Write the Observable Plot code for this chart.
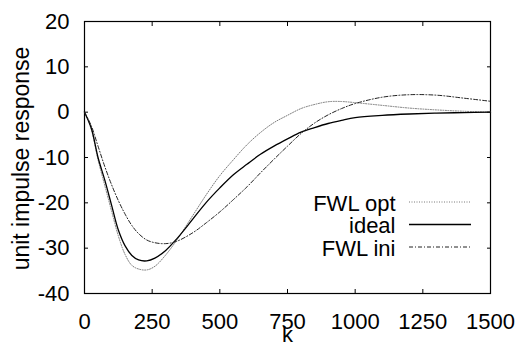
<!DOCTYPE html>
<html><head><meta charset="utf-8">
<script src="https://cdn.jsdelivr.net/npm/d3@7"></script>
<script src="https://cdn.jsdelivr.net/npm/@observablehq/plot@0.6"></script>
<style>body{margin:0;background:#fff} svg{display:block}</style>
</head><body><div id="chart"></div>
<script>
const kValues      = [0, 25, 50, 75, 100, 125, 150, 175, 200, 230, 260, 300, 340, 400, 450, 500, 550, 600, 650, 700, 750, 800, 850, 900, 950, 1000, 1100, 1200, 1300, 1400, 1500];
const idealValues  = [0, -3.5, -10, -15, -20.5, -26, -29.5, -31.6, -32.6, -32.8, -32.2, -30.5, -28, -23.6, -19.9, -16.7, -13.8, -11.5, -9.3, -7.5, -5.9, -4.4, -3.4, -2.5, -1.8, -1.2, -0.7, -0.4, -0.2, -0.1, 0];
const fwlOptValues = [0, -3.8, -10.5, -16.2, -21.8, -27.3, -31.4, -33.8, -34.6, -34.8, -34, -31.5, -28.3, -22.8, -18.2, -14, -10.5, -7.2, -4.5, -2.3, -0.7, 0.8, 1.7, 2.3, 2.35, 2.1, 1.5, 0.9, 0.5, 0.2, 0];
const fwlIniValues = [0, -3, -7.5, -12, -16, -19.5, -22.5, -25, -26.8, -28.2, -28.8, -29, -28.5, -26.6, -24.4, -22, -19.3, -16.5, -13.4, -10.4, -7.5, -4.7, -2.4, -0.6, 0.8, 1.9, 3.3, 3.85, 3.75, 3.1, 2.4];
const seriesNames  = ["FWL opt", "ideal", "FWL ini"];
const xTicks = [0, 250, 500, 750, 1000, 1250, 1500];
const yTicks = [-40, -30, -20, -10, 0, 10, 20];
const xLabel = "k";
const yLabel = "unit impulse response";

const seriesValues = {"FWL opt": fwlOptValues, "ideal": idealValues, "FWL ini": fwlIniValues};
const styles = {
  "FWL opt": {stroke: "#7a7a7a", dash: "1,1.5", width: 1},
  "ideal":   {stroke: "#000", dash: null, width: 1.3},
  "FWL ini": {stroke: "#222", dash: "4,2,1,2", width: 1}
};

const W = 518, H = 344, mL = 84, mR = 28, mT = 21, mB = 51;
const font = "'Liberation Sans', Arial, sans-serif";

const rows = seriesNames.map(name => kValues.map((k, i) => ({k, v: seriesValues[name][i], s: name})));

const legendDy = [46, 68.5, 91];
const fmt = d => String(d);

const plot = Plot.plot({
  width: W, height: H,
  marginLeft: mL, marginRight: mR, marginTop: mT, marginBottom: mB,
  style: {fontFamily: font, fontSize: "22px", color: "#000", background: "#fff"},
  x: {domain: [0, 1500]},
  y: {domain: [-40, 20]},
  marks: [
    Plot.frame({stroke: "#000", strokeWidth: 1.2}),
    Plot.axisX(xTicks, {anchor: "bottom", tickSize: -4, tickPadding: 24, tickFormat: fmt, label: null, fontSize: 22}),
    Plot.axisX(xTicks, {anchor: "top", tickSize: -4, tickFormat: () => "", label: null}),
    Plot.axisY(yTicks, {anchor: "left", tickSize: -4, tickPadding: 19, tickFormat: fmt, label: null, fontSize: 22}),
    Plot.axisY(yTicks, {anchor: "right", tickSize: -4, tickFormat: () => "", label: null}),
    ...seriesNames.map((name, i) => Plot.line(rows[i], {
      x: "k", y: "v", stroke: styles[name].stroke, strokeWidth: styles[name].width,
      strokeDasharray: styles[name].dash, curve: "catmull-rom"
    })),
    Plot.text([yLabel], {frameAnchor: "left", textAnchor: "middle", rotate: -90, dx: -63, dy: 1, text: d => d, fontSize: 23}),
    Plot.text([xLabel], {frameAnchor: "bottom", textAnchor: "middle", dy: 48, text: d => d, fontSize: 22}),
    ...seriesNames.map((name, i) => Plot.text([name], {frameAnchor: "right", textAnchor: "end", dx: -95, dy: legendDy[i], text: d => d, fontSize: 22}))
  ]
});
document.getElementById("chart").appendChild(plot);

// legend sample lines
const svg = d3.select(plot);
const cy = mT + (H - mT - mB) / 2;
seriesNames.forEach((name, i) => {
  svg.append("line")
    .attr("x1", W - mR - 81).attr("x2", W - mR - 19)
    .attr("y1", cy + legendDy[i] - 1).attr("y2", cy + legendDy[i] - 1)
    .attr("stroke", styles[name].stroke)
    .attr("stroke-width", styles[name].width)
    .attr("stroke-dasharray", styles[name].dash);
});
</script>
</body></html>
